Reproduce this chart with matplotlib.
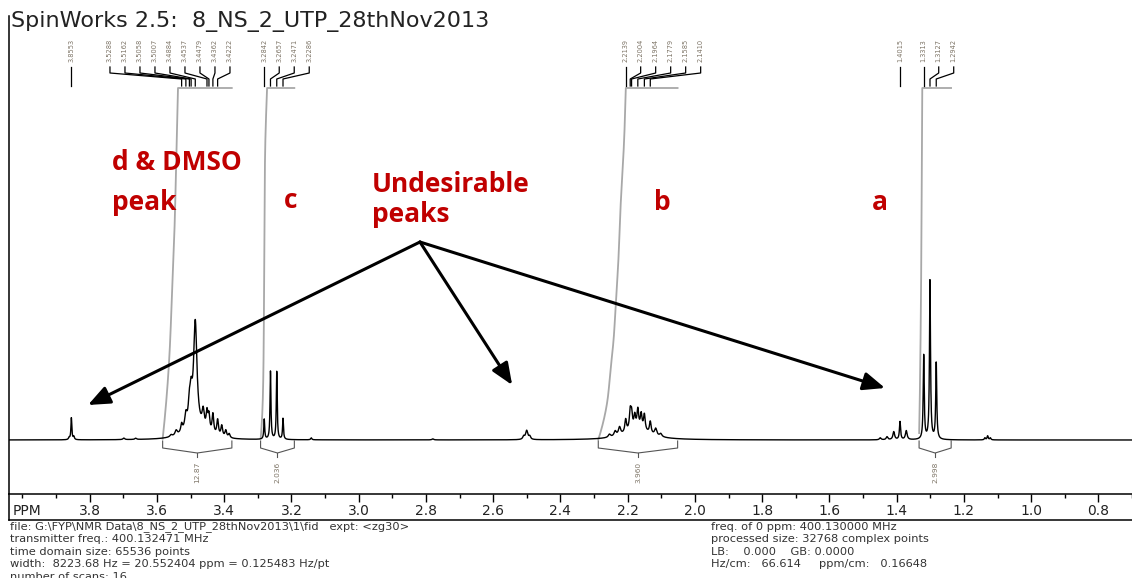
import numpy as np
import matplotlib.pyplot as plt

# spectrum peaks: position (ppm), height, half width (ppm)
peak_ppm = [3.8620, 3.8553, 3.8480, 3.7000, 3.6650,
            3.4900, 3.5600, 3.5450, 3.5288, 3.5162, 3.5058, 3.5007, 3.4884,
            3.4650, 3.4537, 3.4479, 3.4362, 3.4222, 3.4100, 3.3980, 3.3880,
            3.2842, 3.2657, 3.2471, 3.2286, 3.1450,
            2.7850, 2.5160, 2.5070, 2.4980,
            2.1800, 2.2620, 2.2450, 2.2320, 2.2139, 2.2004, 2.1964, 2.1870,
            2.1779, 2.1680, 2.1585, 2.1410, 2.1250, 2.1100,
            1.4600, 1.4400, 1.4200, 1.4015, 1.3830,
            1.3313, 1.3127, 1.2942,
            1.1500, 1.1420, 1.1340]
peak_height = [2, 22, 3, 1.5, 1.2,
               10, 2, 5, 8, 14, 20, 25, 106,
               18, 18, 16, 20, 16, 11, 7, 4,
               20, 68, 68, 21, 2,
               1, 3, 9, 3,
               10, 3, 5, 8, 13, 18, 15, 13,
               19, 15, 16, 12, 7, 3,
               2, 3, 8, 18, 9,
               84, 160, 77,
               2, 4, 2]
peak_hw = [0.002, 0.0016, 0.002, 0.003, 0.003,
           0.035, 0.004, 0.004, 0.003, 0.004, 0.004, 0.004, 0.006,
           0.004, 0.003, 0.003, 0.003, 0.003, 0.003, 0.003, 0.003,
           0.0016, 0.0016, 0.0016, 0.0016, 0.002,
           0.003, 0.003, 0.004, 0.003,
           0.045, 0.004, 0.004, 0.004, 0.003, 0.003, 0.003, 0.003,
           0.003, 0.003, 0.003, 0.003, 0.004, 0.004,
           0.003, 0.003, 0.003, 0.002, 0.003,
           0.0018, 0.0018, 0.0018,
           0.002, 0.002, 0.002]

# picked peaks shown above the trace
label_groups = [
    [3.8553],
    [3.5288, 3.5162, 3.5058, 3.5007, 3.4884, 3.4537, 3.4479, 3.4362, 3.4222],
    [3.2842, 3.2657, 3.2471, 3.2286],
    [2.2139, 2.2004, 2.1964, 2.1779, 2.1585, 2.1410],
    [1.4015],
    [1.3313, 1.3127, 1.2942],
]
label_start = [3.8553, 3.741, 3.2842, 2.2139, 1.4015, 1.3313]

# integral regions
integral_from = [3.585, 3.295, 2.295, 1.345]
integral_to = [3.380, 3.195, 2.060, 1.250]
integral_value = ["12.87", "2.036", "3.960", "2.998"]
integral_top_at = [3.540, 3.276, 2.214, 1.336]

ppm_ticks = [3.8, 3.6, 3.4, 3.2, 3.0, 2.8, 2.6, 2.4, 2.2, 2.0, 1.8, 1.6, 1.4, 1.2, 1.0, 0.8]

info_left = [
    "file: G:\\FYP\\NMR Data\\8_NS_2_UTP_28thNov2013\\1\\fid   expt: <zg30>",
    "transmitter freq.: 400.132471 MHz",
    "time domain size: 65536 points",
    "width:  8223.68 Hz = 20.552404 ppm = 0.125483 Hz/pt",
    "number of scans: 16",
]
info_right = [
    "freq. of 0 ppm: 400.130000 MHz",
    "processed size: 32768 complex points",
    "LB:    0.000    GB: 0.0000",
    "Hz/cm:   66.614     ppm/cm:   0.16648",
]

W, H = 1132, 578
x_left, x_right = 4.040, 0.7145
clip = 352
step = 15 / 337.7
red = "#c00000"
gray_txt = "#7d7466"

fig = plt.figure(figsize=(W / 100, H / 100), dpi=100)
fig.patch.set_facecolor("white")

ax = fig.add_axes([9 / W, (H - 494) / H, 1 - 9 / W, 478 / H])
ax.set_xlim(x_left, x_right)
ax.set_ylim(-54, 424)
for s in ["top", "right", "bottom"]:
    ax.spines[s].set_visible(False)
ax.spines["left"].set_linewidth(1.1)
ax.set_xticks([])
ax.set_yticks([])

# spectrum as a sum of lorentzian lines
x = np.linspace(4.06, 0.70, 8000)
y = np.zeros_like(x)
for p, h, w in zip(peak_ppm, peak_height, peak_hw):
    y += h / (1 + ((x - p) / w) ** 2)
ax.plot(x, y, color="black", lw=1.0, zorder=3)

# integrals
for a, b, val, hit in zip(integral_from, integral_to, integral_value, integral_top_at):
    m = (x <= a) & (x >= b)
    xs = x[m]
    cum = np.cumsum(y[m])
    gain = clip / cum[np.argmax(xs <= hit)]
    ax.plot(xs, np.minimum(cum * gain, clip), color="#a8a8a8", lw=1.3, zorder=2)
    mid = (a + b) / 2
    ax.plot([a, a, mid, b, b], [-1, -8, -13, -8, -1], color="#555555", lw=0.8)
    ax.plot([mid, mid], [-13, -17], color="#555555", lw=0.8)
    ax.text(mid, -22, val, rotation=90, ha="center", va="top", fontsize=5.3,
            color=gray_txt, family="DejaVu Sans")

# peak labels with leader lines
for grp, start in zip(label_groups, label_start):
    for i, p in enumerate(grp):
        sx = start - i * step
        ax.text(sx, 378, f"{p:.4f}", rotation=90, ha="center", va="bottom",
                fontsize=4.8, color=gray_txt, family="DejaVu Sans")
        if len(grp) == 1:
            ax.plot([p, p], [373, 354], color="black", lw=0.9)
        else:
            ax.plot([sx, sx, p, p], [373, 367, 361, 354], color="black", lw=0.9)

# annotations
tf = dict(color=red, fontsize=19, fontweight="bold", family="Open Sans", va="center")
ax.text(3.735, 278, "d & DMSO", ha="left", **tf)
ax.text(3.735, 237, "peak", ha="left", **tf)
ax.text(3.205, 240, "c", ha="center", **tf)
ax.text(2.965, 255, "Undesirable", ha="left", **tf)
ax.text(2.965, 225, "peaks", ha="left", **tf)
ax.text(2.106, 238, "b", ha="center", **tf)
ax.text(1.461, 238, "a", ha="center", **tf)

arrow_from = (2.823, 198)
arrow_to = [(3.806, 35), (2.550, 55), (1.446, 52)]
for tx, ty in arrow_to:
    ax.annotate("", xy=(tx, ty), xytext=arrow_from,
                arrowprops=dict(arrowstyle="-|>,head_length=0.6,head_width=0.25",
                                mutation_scale=22, lw=2.2, color="black",
                                shrinkA=0, shrinkB=0))

# ppm scale strip
ax2 = fig.add_axes([9 / W, (H - 520) / H, 1 - 9 / W, 26 / H])
ax2.set_xlim(x_left, x_right)
ax2.set_ylim(0, 1)
ax2.spines["right"].set_visible(False)
for s in ["top", "left", "bottom"]:
    ax2.spines[s].set_linewidth(1.1)
ax2.xaxis.tick_top()
ax2.set_xticks(ppm_ticks)
ax2.set_xticks(np.arange(0.7, 4.05, 0.1), minor=True)
ax2.tick_params(axis="x", which="major", direction="in", length=6, width=1, labeltop=False)
ax2.tick_params(axis="x", which="minor", direction="in", length=3, width=1)
ax2.set_yticks([])
for v in ppm_ticks:
    ax2.text(v, 0.36, f"{v:.1f}", ha="center", va="center", fontsize=10,
             family="DejaVu Sans", color="#222222")
ax2.text(4 / 1123, 0.36, "PPM", transform=ax2.transAxes, ha="left", va="center",
         fontsize=10, family="DejaVu Sans", color="#222222")

fig.text(11 / W, 1 - 21 / H, "SpinWorks 2.5:  8_NS_2_UTP_28thNov2013", ha="left",
         va="center", fontsize=16, family="DejaVu Sans", color="#222222")

for i, line in enumerate(info_left):
    fig.text(10 / W, 1 - (527 + 12.4 * i) / H, line, ha="left", va="center",
             fontsize=8.2, family="DejaVu Sans", color="#333333")
for i, line in enumerate(info_right):
    fig.text(711 / W, 1 - (527 + 12.4 * i) / H, line, ha="left", va="center",
             fontsize=8.2, family="DejaVu Sans", color="#333333")

fig.savefig("out.png", dpi=100)
